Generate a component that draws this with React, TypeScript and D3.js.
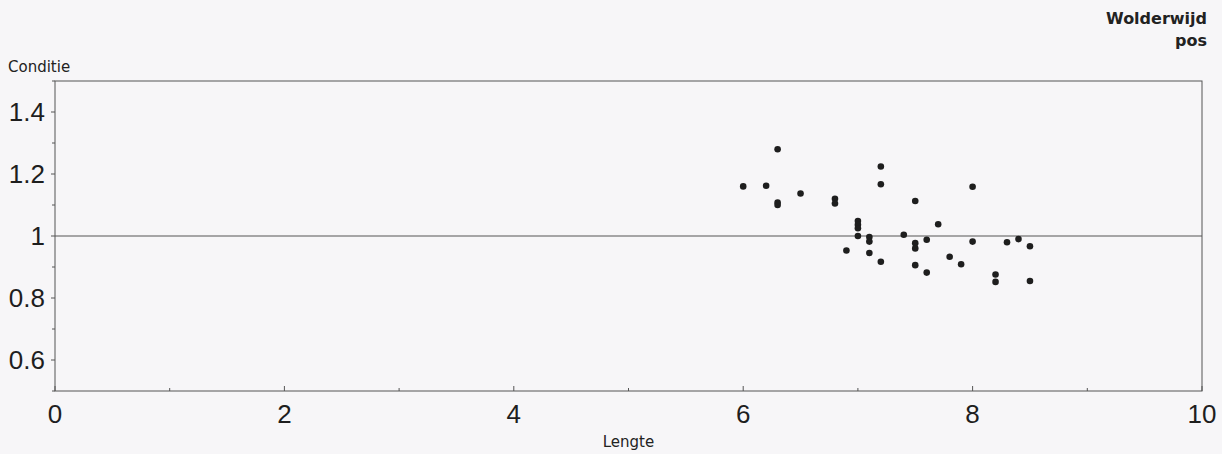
import React from "react";
import * as d3 from "d3";

const lengte = [6.0, 6.2, 6.3, 6.3, 6.3, 6.5, 6.8, 6.8, 6.9, 7.0, 7.0, 7.0, 7.0, 7.1, 7.1, 7.1, 7.2, 7.2, 7.2, 7.4, 7.5, 7.5, 7.5, 7.5, 7.6, 7.6, 7.7, 7.8, 7.9, 8.0, 8.0, 8.2, 8.2, 8.3, 8.4, 8.5, 8.5];
const conditie = [1.16, 1.162, 1.28, 1.108, 1.1, 1.137, 1.12, 1.105, 0.953, 1.048, 1.036, 1.025, 1.0, 0.997, 0.982, 0.945, 1.224, 1.167, 0.917, 1.004, 1.113, 0.977, 0.96, 0.906, 0.988, 0.882, 1.038, 0.933, 0.909, 1.159, 0.982, 0.876, 0.852, 0.98, 0.99, 0.967, 0.855];
const xTicks = [0, 2, 4, 6, 8, 10];
const xMinor = [1, 3, 5, 7, 9];
const yTicks = [0.6, 0.8, 1, 1.2, 1.4];
const yMinor = [0.5, 0.7, 0.9, 1.1, 1.3, 1.5];
const title = ["Wolderwijd", "pos"];

const W = 1222, H = 454;
const L = 55, R = 1202, T = 81, B = 391;

export default function App() {
  const x = d3.scaleLinear().domain([0, 10]).range([L, R]);
  const y = d3.scaleLinear().domain([0.5, 1.5]).range([B, T]);
  const fmt = (v: number) => (v === 1 ? "1" : d3.format(".1f")(v));
  const axisColor = "#555";
  return (
    <svg width={W} height={H} style={{ position: "absolute", left: 0, top: 0, background: "#f7f6f8" }}>
      <rect x={0} y={0} width={W} height={H} fill="#f7f6f8" />
      <rect x={L} y={T} width={R - L} height={B - T} fill="none" stroke={axisColor} strokeWidth={1} />
      <line x1={L} x2={R} y1={y(1)} y2={y(1)} stroke="#555" strokeWidth={1} />
      {yTicks.map((t) => (
        <g key={"yt" + t}>
          <line x1={L - 4} x2={L} y1={y(t)} y2={y(t)} stroke={axisColor} />
          <text x={45} y={y(t) + 9} textAnchor="end" fontFamily="'Liberation Sans', Arial, sans-serif" fontSize={26} fill="#1e1e1e">{fmt(t)}</text>
        </g>
      ))}
      {yMinor.map((t) => (
        <line key={"ym" + t} x1={L - 3} x2={L} y1={y(t)} y2={y(t)} stroke={axisColor} />
      ))}
      {xTicks.map((t) => (
        <g key={"xt" + t}>
          <line x1={x(t)} x2={x(t)} y1={B} y2={B - 5} stroke={axisColor} />
          <text x={x(t)} y={423} textAnchor="middle" fontFamily="'Liberation Sans', Arial, sans-serif" fontSize={26} fill="#1e1e1e">{t}</text>
        </g>
      ))}
      {xMinor.map((t) => (
        <line key={"xm" + t} x1={x(t)} x2={x(t)} y1={B} y2={B - 3} stroke={axisColor} />
      ))}
      {lengte.map((l, i) => (
        <circle key={"p" + i} cx={x(l)} cy={y(conditie[i])} r={3.3} fill="#1e1e1e" />
      ))}
      <text x={8} y={72} fontFamily="'DejaVu Sans', sans-serif" fontSize={15} fill="#222">Conditie</text>
      <text x={(L + R) / 2} y={447} textAnchor="middle" fontFamily="'DejaVu Sans', sans-serif" fontSize={15} fill="#222">Lengte</text>
      {title.map((s, i) => (
        <text key={s} x={1207} y={24 + i * 22} textAnchor="end" fontFamily="'DejaVu Sans', sans-serif" fontWeight="bold" fontSize={16} fill="#222">{s}</text>
      ))}
    </svg>
  );
}
